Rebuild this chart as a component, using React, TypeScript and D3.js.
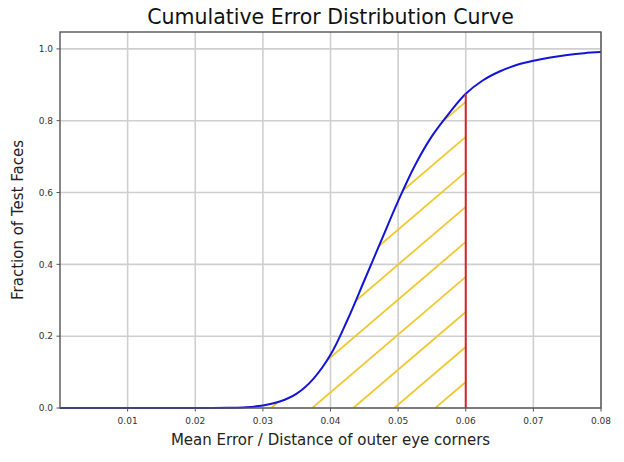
import React from "react";
import * as d3 from "d3";

const errors = [0, 0.01, 0.02, 0.025, 0.0275, 0.03, 0.0325, 0.035, 0.0375, 0.04, 0.0425, 0.045, 0.0475, 0.05, 0.0525, 0.055, 0.0575, 0.06, 0.0625, 0.065, 0.0675, 0.07, 0.0725, 0.075, 0.0775, 0.08];
const fractions = [0, 0, 0, 0.0005, 0.002, 0.007, 0.018, 0.04, 0.082, 0.148, 0.245, 0.355, 0.466, 0.576, 0.676, 0.757, 0.82, 0.875, 0.912, 0.937, 0.955, 0.967, 0.976, 0.983, 0.988, 0.991];
const xTicks = [0.01, 0.02, 0.03, 0.04, 0.05, 0.06, 0.07, 0.08];
const yTicks = [0, 0.2, 0.4, 0.6, 0.8, 1.0];
const threshold = 0.06;
const titleText = "Cumulative Error Distribution Curve";
const xLabel = "Mean Error / Distance of outer eye corners";
const yLabel = "Fraction of Test Faces";

const W = 624, H = 462;
const M = { left: 60, right: 23, top: 32, bottom: 54 };
const FONT = "DejaVu Sans, sans-serif";

export default function App() {
  const x = d3.scaleLinear().domain([0, 0.08]).range([M.left, W - M.right]);
  const y = d3.scaleLinear().domain([0, 1.047]).range([H - M.bottom, M.top]);
  const data = errors.map((e, i) => ({ e, f: fractions[i] }));
  const curve = d3.curveCatmullRom.alpha(0.5);
  const line = d3.line<{ e: number; f: number }>().x(d => x(d.e)).y(d => y(Math.max(0, d.f))).curve(curve);
  const underData = data.filter(d => d.e <= threshold);
  const area = d3.area<{ e: number; f: number }>().x(d => x(d.e)).y0(y(0)).y1(d => y(d.f)).curve(curve);
  const thrVal = fractions[errors.indexOf(threshold)];

  // hatch lines
  const spacing = 41;
  const slope = 0.854;
  const startX = x(0.0373);
  const hatch: { x1: number; y1: number; x2: number; y2: number }[] = [];
  for (let k = -12; k < 6; k++) {
    const x0 = startX + k * spacing;
    const L = 400;
    hatch.push({ x1: x0, y1: y(0), x2: x0 + L, y2: y(0) - slope * L });
  }

  const fmtX = d3.format(".2f");
  const fmtY = d3.format(".1f");
  const x0 = M.left, x1 = W - M.right, yTop = M.top, yBot = H - M.bottom;

  return (
    <svg width={W} height={H} style={{ position: "absolute", left: 0, top: 0, background: "#fff" }} fontFamily={FONT}>
      <defs>
        <clipPath id="under">
          <path d={area(underData) || ""} />
        </clipPath>
        <clipPath id="plot">
          <rect x={x0} y={yTop} width={x1 - x0} height={yBot - yTop + 1} />
        </clipPath>
      </defs>
      {/* grid */}
      {xTicks.map(t => (
        <line key={"gx" + t} x1={x(t)} x2={x(t)} y1={yTop} y2={yBot} stroke="#cfcfcf" strokeWidth={1.6} />
      ))}
      {yTicks.map(t => (
        <line key={"gy" + t} x1={x0} x2={x1} y1={y(t)} y2={y(t)} stroke="#cfcfcf" strokeWidth={1.6} />
      ))}
      {/* hatch */}
      <g clipPath="url(#under)">
        {hatch.map((h, i) => (
          <line key={i} x1={h.x1} y1={h.y1} x2={h.x2} y2={h.y2} stroke="#f0c832" strokeWidth={1.8} />
        ))}
      </g>
      {/* curve */}
      <path d={line(data) || ""} fill="none" stroke="#1414d8" strokeWidth={2} clipPath="url(#plot)" />
      {/* threshold */}
      <line x1={x(threshold)} x2={x(threshold)} y1={y(0)} y2={y(thrVal)} stroke="#d42424" strokeWidth={2} />
      {/* frame */}
      <rect x={x0} y={yTop} width={x1 - x0} height={yBot - yTop} fill="none" stroke="#555" strokeWidth={1.4} />
      {/* ticks */}
      {xTicks.map(t => (
        <g key={"tx" + t}>
          <line x1={x(t)} x2={x(t)} y1={yBot} y2={yBot + 3.5} stroke="#555" strokeWidth={1} />
          <text x={x(t)} y={yBot + 16} textAnchor="middle" fontSize={9} fill="#333">{fmtX(t)}</text>
        </g>
      ))}
      {yTicks.map(t => (
        <g key={"ty" + t}>
          <line x1={x0 - 3.5} x2={x0} y1={y(t)} y2={y(t)} stroke="#555" strokeWidth={1} />
          <text x={x0 - 7} y={y(t)} dy="0.35em" textAnchor="end" fontSize={9} fill="#333">{fmtY(t)}</text>
        </g>
      ))}
      <text x={(x0 + x1) / 2} y={24} textAnchor="middle" fontSize={20.5} fill="#111">{titleText}</text>
      <text x={(x0 + x1) / 2} y={445} textAnchor="middle" fontSize={15} fill="#222">{xLabel}</text>
      <text transform={`translate(23,${(yTop + yBot) / 2}) rotate(-90)`} textAnchor="middle" fontSize={15} fill="#222">{yLabel}</text>
    </svg>
  );
}
